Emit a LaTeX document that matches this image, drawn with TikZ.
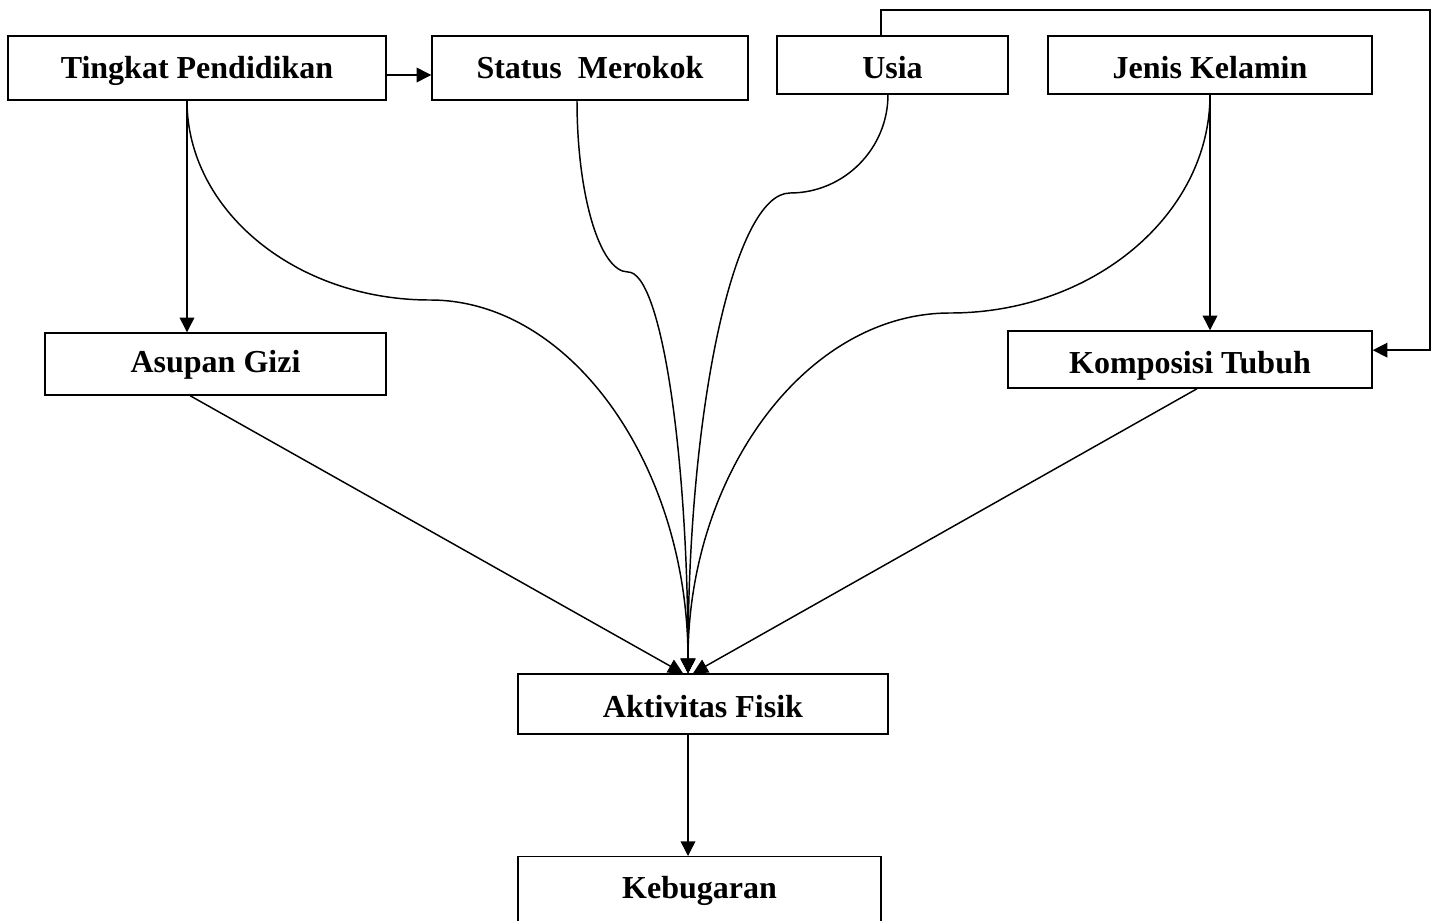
\documentclass[tikz,border=0pt]{standalone}
\usepackage{fontspec}
\setmainfont{Liberation Serif}
\usetikzlibrary{arrows.meta}
\begin{document}
\begin{tikzpicture}[x=0.75pt,y=-0.75pt,
  box/.style={draw,line width=1.1pt,inner sep=0pt,text height=20.5pt,text depth=0pt,font=\fontsize{24}{28}\selectfont\bfseries},
  arr/.style={line width=1.1pt,-{Triangle[length=11pt,width=11pt]}}]
\clip (0,0) rectangle (1437,920);
\fill[white] (0,0) rectangle (1437,920);
% nodes
\node[box,minimum width={378*0.75pt},minimum height={64*0.75pt}] (tp) at (197,68) {\raisebox{2.25pt}{Tingkat Pendidikan}};
\node[box,minimum width={316*0.75pt},minimum height={64*0.75pt}] (sm) at (590,68) {\raisebox{2.25pt}{Status~~Merokok}};
\node[box,minimum width={231*0.75pt},minimum height={58*0.75pt}] (us) at (892.5,65) {Usia};
\node[box,minimum width={324*0.75pt},minimum height={58*0.75pt}] (jk) at (1210,65) {Jenis Kelamin};
\node[box,minimum width={341*0.75pt},minimum height={62*0.75pt}] (ag) at (215.5,364) {\raisebox{3.75pt}{Asupan Gizi}};
\node[box,minimum width={364*0.75pt},minimum height={57*0.75pt}] (kt) at (1190,359.5) {Komposisi Tubuh};
\node[box,minimum width={370*0.75pt},minimum height={60*0.75pt}] (af) at (703,704) {Aktivitas Fisik};
\node[box,minimum width={363*0.75pt},minimum height={88*0.75pt},anchor=north] (kb) at (699.5,856) {\raisebox{12.25pt}{Kebugaran}};
% helper coordinates
\coordinate (tpS) at ([xshift=-7.5pt]tp.south);
\coordinate (smS) at ([xshift=-9.75pt]sm.south);
\coordinate (usS) at ([xshift=-3.4pt]us.south);
\coordinate (usN) at ([xshift=-8.6pt]us.north);
\coordinate (aft) at ([xshift=-11.25pt]af.north);
\coordinate (aftL) at ([xshift=-15pt]af.north);
\coordinate (aftR) at ([xshift=-7.5pt]af.north);
\coordinate (m1) at (430,300);
\coordinate (m2) at (628,272);
\coordinate (m3) at (790,193);
\coordinate (m4) at (950,313);
\coordinate (lp) at (1430,10);
% straight connectors
\draw[arr] ([yshift=-5.25pt]tp.east) -- ([yshift=-5.25pt]tp.east -| sm.west);
\draw[arr] (tpS) -- (tpS |- ag.north);
\draw[arr] (jk.south) -- (jk.south |- kt.north);
\draw[arr] (usN) |- (lp) |- ([yshift=7pt]kt.east);
\draw[arr] ([xshift=-11.25pt]af.south) -- ([xshift=-11.25pt]af.south |- kb.north);
\draw[arr] ([xshift=-19pt]ag.south) -- (aftL);
\draw[arr] ([xshift=5.25pt]kt.south) -- (aftR);
% curved connectors
\draw[arr] (tpS) .. controls +(0,110) and +(-134,0) .. (m1) .. controls +(142,0) and +(0,-206) .. (aft);
\draw[arr] (smS) .. controls +(0,95) and +(-28,0) .. (m2) .. controls +(33,0) and +(0,-221) .. (aft);
\draw[arr] (usS) .. controls +(0,54) and +(54,0) .. (m3) .. controls +(-56,0) and +(0,-265) .. (aft);
\draw[arr] (jk.south) .. controls +(0,120) and +(143,0) .. (m4) .. controls +(-144,0) and +(0,-199) .. (aft);
\end{tikzpicture}
\end{document}
